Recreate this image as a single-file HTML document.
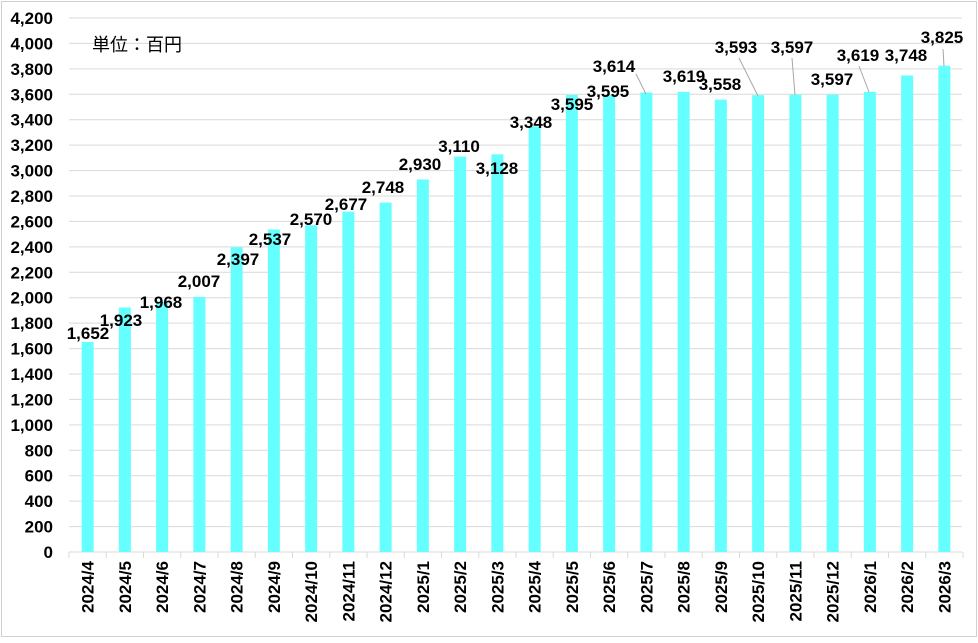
<!DOCTYPE html>
<html><head><meta charset="utf-8"><style>
body{margin:0;background:#fff}
svg text{font-family:"Liberation Sans","Noto Sans CJK JP",sans-serif;font-weight:bold;font-size:17px;fill:#000}
</style></head><body>
<svg width="978" height="638" xmlns="http://www.w3.org/2000/svg">
<rect x="1.5" y="1.5" width="975" height="635" fill="#fff" stroke="#d0d0d0"/>
<script>
var svg=document.querySelector('svg'),ns='http://www.w3.org/2000/svg';
function el(t,a,txt){var e=document.createElementNS(ns,t);for(var k in a)e.setAttribute(k,a[k]);if(txt)e.textContent=txt;svg.appendChild(e);return e;}
var y0=552,sc=534/4200,x0=69,step=37.25;
for(var v=0;v<=4200;v+=200){var y=y0-v*sc;
 if(v>0)el('line',{x1:69,x2:962,y1:y,y2:y,stroke:'#d9d9d9','stroke-width':1});
 el('text',{x:53,y:y+6,'text-anchor':'end'},v.toLocaleString('en-US'));}
el('line',{x1:69,x2:962,y1:552,y2:552,stroke:'#d9d9d9'});
var vals=[1652,1923,1968,2007,2397,2537,2570,2677,2748,2930,3110,3128,3348,3595,3595,3614,3619,3558,3593,3597,3597,3619,3748,3825];
var labs=['2024/4','2024/5','2024/6','2024/7','2024/8','2024/9','2024/10','2024/11','2024/12','2025/1','2025/2','2025/3','2025/4','2025/5','2025/6','2025/7','2025/8','2025/9','2025/10','2025/11','2025/12','2026/1','2026/2','2026/3'];
for(var i=0;i<=24;i++){var x=x0+i*step;el('line',{x1:x,x2:x,y1:552,y2:558,stroke:'#d9d9d9'});}
vals.forEach(function(v,i){var c=x0+step*(i+0.5);
 el('rect',{x:c-6,y:y0-v*sc,width:12,height:v*sc,fill:'#66FFFF'});
 el('text',{transform:'translate('+(c+6)+',561) rotate(-90)','text-anchor':'end'},labs[i]);});
var L=[[88,333],[121,320],[161,302],[199,281],[238,259],[270,239],[311,219],[346,204],[383,187],[420,164],[459,146],[497,168],[531,122],[572,104],[608,91],[614,66],[684,76],[720,84],[736,47],[792,47],[832,79],[858,55],[906,55],[942,37]];
[[636,74,646,94],[739,58,758,96],[792,58,795,95],[859,66,869,92],[943,49,944,66]].forEach(function(l){el('line',{x1:l[0],y1:l[1],x2:l[2],y2:l[3],stroke:'#a6a6a6'});});
L.forEach(function(p,i){el('text',{x:p[0],y:p[1]+6,'text-anchor':'middle'},vals[i].toLocaleString('en-US'));});
el('text',{x:92,y:51,style:'font-weight:normal;font-size:18px'},'単位：百円');
</script>
</svg>
</body></html>
